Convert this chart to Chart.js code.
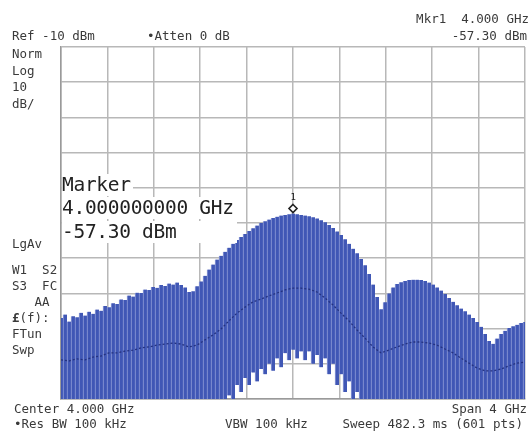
<!DOCTYPE html>
<html>
<head>
<meta charset="utf-8">
<script src="https://cdn.jsdelivr.net/npm/chart.js@4/dist/chart.umd.min.js"></script>
<style>
  body { margin:0; background:#fff; }
  #wrap { position:relative; width:531px; height:439px; overflow:hidden; background:#fff; }
  canvas { position:absolute; left:0; top:0; }
  .t { position:absolute; font-family:"DejaVu Sans Mono", monospace; font-size:12.5px; line-height:13px; color:#3a3a3a; white-space:pre; }
  .mk { position:absolute; left:62px; font-family:"DejaVu Sans Mono", monospace; font-size:19.5px; line-height:22px; color:#222; white-space:pre; background:#fff; letter-spacing:-0.3px; }
</style>
</head>
<body>
<div id="wrap">
<canvas id="c" width="531" height="439"></canvas>

<div class="t" style="left:12px;top:29px">Ref -10 dBm</div>
<div class="t" style="left:147px;top:29px">•Atten 0 dB</div>
<div class="t" style="right:2px;top:12px;text-align:right">Mkr1  4.000 GHz</div>
<div class="t" style="right:4px;top:29px;text-align:right">-57.30 dBm</div>

<div class="t" style="left:12px;top:47px">Norm</div>
<div class="t" style="left:12px;top:64px">Log</div>
<div class="t" style="left:12px;top:80px">10</div>
<div class="t" style="left:12px;top:97px">dB/</div>
<div class="t" style="left:12px;top:237px">LgAv</div>
<div class="t" style="left:12px;top:263px">W1  S2</div>
<div class="t" style="left:12px;top:279px">S3  FC</div>
<div class="t" style="left:12px;top:295px">   AA</div>
<div class="t" style="left:12px;top:311px"><b>£</b>(f):</div>
<div class="t" style="left:12px;top:327px">FTun</div>
<div class="t" style="left:12px;top:343px">Swp</div>

<div class="t" style="left:14px;top:402px">Center 4.000 GHz</div>
<div class="t" style="right:4px;top:402px;text-align:right">Span 4 GHz</div>
<div class="t" style="left:14px;top:417px">•Res BW 100 kHz</div>
<div class="t" style="left:225px;top:417px">VBW 100 kHz</div>
<div class="t" style="right:8px;top:417px;text-align:right">Sweep 482.3 ms (601 pts)</div>

<div class="mk" style="top:174px;padding-right:2px">Marker</div>
<div class="mk" style="top:197px;width:175px">4.000000000 GHz</div>
<div class="mk" style="top:221px;width:175px">-57.30 dBm</div>
<div class="t" id="mk1" style="font-size:9px;line-height:9px;color:#222">1</div>
</div>

<script>
// ---- Axis settings (GHz / dBm) ----
const START_GHZ = 2.0;
const STOP_GHZ = 6.0;
const REF_DBM = -10;
const BOTTOM_DBM = -110;
const MARKER_FREQ = 4.000;
const MARKER_DBM = -57.30;

// ---- Trace: upper (peak) values of each sweep stripe, dBm ----
const traceHigh = [
 -87.0,-86.0,-88.0,-86.5,-86.8,-85.5,-86.3,-85.2,-85.8,-84.6,
 -84.9,-83.6,-83.9,-82.8,-83.0,-81.7,-81.9,-80.6,-80.9,-79.8,
 -79.9,-78.9,-79.0,-78.2,-78.4,-77.6,-77.9,-77.2,-77.5,-76.9,
 -77.6,-78.3,-79.6,-79.4,-78.0,-76.6,-75.0,-73.2,-71.8,-70.4,
 -69.3,-68.2,-67.0,-65.9,-64.8,-64.0,-63.1,-62.3,-61.5,-60.7,
 -60.0,-59.5,-59.0,-58.6,-58.2,-57.9,-57.7,-57.5,-57.3,-57.5,
 -57.7,-57.9,-58.1,-58.4,-58.7,-59.2,-59.8,-60.6,-61.4,-62.4,
 -63.4,-64.6,-65.9,-67.3,-68.6,-70.2,-72.0,-74.5,-77.5,-81.0,
 -84.5,-82.5,-80.0,-78.3,-77.3,-76.8,-76.5,-76.2,-76.1,-76.1,
 -76.2,-76.5,-76.9,-77.5,-78.3,-79.2,-80.2,-81.3,-82.4,-83.4,
 -84.3,-85.1,-86.0,-87.0,-88.1,-89.5,-91.5,-93.5,-94.3,-92.8,
 -91.5,-90.6,-89.8,-89.3,-88.9,-88.4,-88.1
];

// ---- Trace: lower (minimum) values of each sweep stripe, dBm ----
const traceLow = [
 -110,-110,-110,-110,-110,-110,-110,-110,-110,-110,
 -110,-110,-110,-110,-110,-110,-110,-110,-110,-110,
 -110,-110,-110,-110,-110,-110,-110,-110,-110,-110,
 -110,-110,-110,-110,-110,-110,-110,-110,-110,-110,
 -110,-110,-109,-110,-106,-108,-104,-106,-102.5,-105,
 -101.5,-103,-100,-102,-98.5,-101,-97,-99,-96,-98.5,
 -96.5,-99,-96.5,-100,-97.5,-101,-98.5,-103,-100,-106,
 -103,-108,-105,-110,-108,-110,-110,-110,-110,-110,
 -110,-110,-110,-110,-110,-110,-110,-110,-110,-110,
 -110,-110,-110,-110,-110,-110,-110,-110,-110,-110,
 -110,-110,-110,-110,-110,-110,-110,-110,-110,-110,
 -110,-110,-110,-110,-110,-110,-110
];

// ---- Average (dotted) trace, dBm ----
const traceAvg = [
 -98.9,-99.2,-98.6,-98.9,-98.1,-97.8,-96.9,-96.9,-96.4,-96.1,
 -95.5,-95.2,-94.7,-94.4,-94.1,-94.4,-95.2,-94.7,-93.2,-91.8,
 -90.1,-87.8,-85.6,-83.9,-82.4,-81.6,-80.7,-79.9,-79.0,-78.5,
 -78.5,-78.8,-79.6,-81.3,-83.3,-85.6,-87.8,-90.4,-92.7,-95.2,
 -96.9,-96.1,-95.2,-94.4,-93.8,-93.8,-94.1,-94.7,-95.8,-96.9,
 -98.4,-99.8,-101.2,-102.0,-102.0,-101.5,-100.6,-99.8,-99.5
];

const SPAN = STOP_GHZ - START_GHZ;
const barData = traceHigh.map((h, i) => ({
  x: START_GHZ + i * SPAN / (traceHigh.length - 1),
  y: [traceLow[i], h]
}));
const avgData = traceAvg.map((v, j) => ({
  x: START_GHZ + j * SPAN / (traceAvg.length - 1),
  y: v
}));

const markerPlugin = {
  id: 'marker',
  afterDatasetsDraw(chart) {
    const ctx = chart.ctx;
    const px = chart.scales.x.getPixelForValue(MARKER_FREQ);
    const py = chart.scales.y.getPixelForValue(MARKER_DBM) - 5;
    ctx.save();
    ctx.beginPath();
    ctx.moveTo(px, py - 4);
    ctx.lineTo(px + 4, py);
    ctx.lineTo(px, py + 4);
    ctx.lineTo(px - 4, py);
    ctx.closePath();
    ctx.fillStyle = '#fff';
    ctx.fill();
    ctx.lineWidth = 1.6;
    ctx.strokeStyle = '#222';
    ctx.stroke();
    ctx.restore();
    const lab = document.getElementById('mk1');
    lab.style.left = (px - 2.5) + 'px';
    lab.style.top = (py - 15) + 'px';
  }
};

new Chart(document.getElementById('c'), {
  data: {
    datasets: [
      {
        type: 'line',
        data: avgData,
        borderColor: '#24327f',
        borderWidth: 1.3,
        borderDash: [2, 2],
        pointRadius: 0,
        tension: 0,
        order: 0
      },
      {
        type: 'bar',
        data: barData,
        backgroundColor: '#4057b5',
        borderColor: '#93a0da',
        borderWidth: { left: 1, right: 0, top: 0, bottom: 0 },
        borderSkipped: false,
        barPercentage: 1.0,
        categoryPercentage: 1.0,
        grouped: false,
        order: 1
      }
    ]
  },
  options: {
    responsive: false,
    animation: false,
    events: [],
    layout: { padding: { left: 61, right: 6, top: 47, bottom: 40 } },
    plugins: { legend: { display: false }, tooltip: { enabled: false } },
    scales: {
      x: {
        type: 'linear',
        offset: false,
        min: START_GHZ, max: STOP_GHZ,
        ticks: { display: false, stepSize: SPAN / 10 },
        grid: { color: '#b8b8b8', lineWidth: 1.5, drawTicks: false, offset: false },
        border: { display: true, color: '#9a9a9a', width: 1.5 }
      },
      y: {
        min: BOTTOM_DBM, max: REF_DBM,
        ticks: { display: false, stepSize: 10 },
        grid: { color: '#b8b8b8', lineWidth: 1.5, drawTicks: false },
        border: { display: true, color: '#9a9a9a', width: 1.5 }
      }
    }
  },
  plugins: [markerPlugin]
});
</script>
</body>
</html>
